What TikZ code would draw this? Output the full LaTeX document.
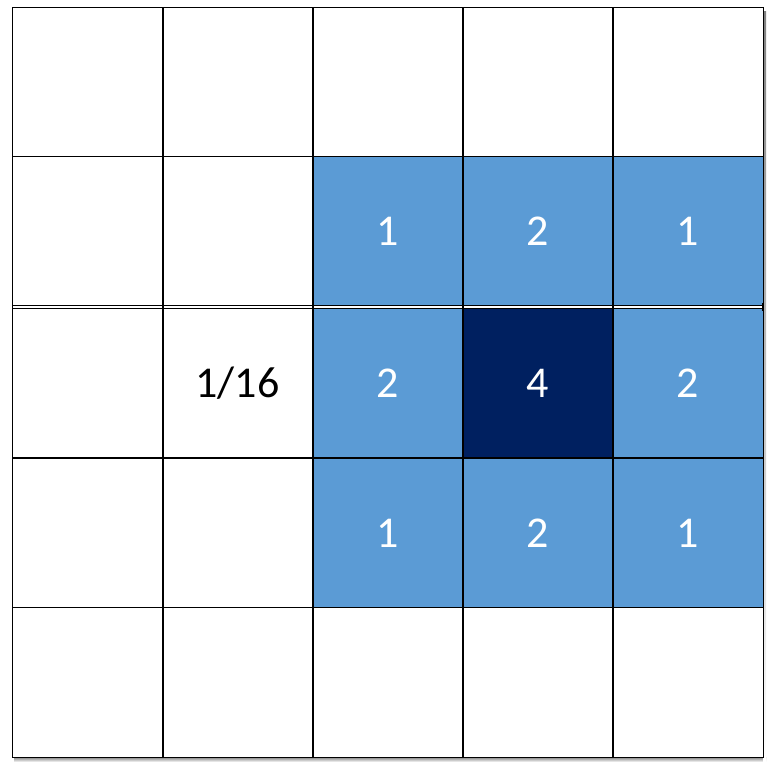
\documentclass[tikz,border=0pt]{standalone}
\usepackage{fontspec}
\setmainfont{Carlito}
\definecolor{midblue}{HTML}{5B9BD5}
\definecolor{navy}{HTML}{002060}
\definecolor{shade}{HTML}{E6ECF5}
\begin{document}
\begin{tikzpicture}[x=1pt,y=-1pt,
  cell/.style={draw=black,line width=1.4pt,inner sep=0pt,minimum width=150.4pt,minimum height=149.6pt,font=\fontsize{44}{48}\selectfont},
  bcell/.style={cell,fill=midblue,text=white},
  dcell/.style={cell,fill=navy,text=white},
  wcell/.style={cell,fill=white,text=black}]
\useasboundingbox (0,0) rectangle (779,773);
\fill[shade] (14,757) rectangle (766,762);
\fill[shade] (763,12) rectangle (766,762);
% rows 1-2
\foreach \c [count=\i] in {87.5,237.5,388,538,688}{
  \node[wcell] (r1c\i) at (\c,82.5) {};
}
\node[wcell] (r2c1) at (87.5,231.5) {};
\node[wcell] (r2c2) at (237.5,231.5) {};
\node[bcell] (r2c3) at (388,231.5) {1};
\node[bcell] (r2c4) at (538,231.5) {2};
\node[bcell] (r2c5) at (688,231.5) {1};
% row 3
\node[wcell] (r3c1) at (87.5,383) {};
\node[wcell] (r3c2) at (237.5,383) {1/16};
\node[bcell] (r3c3) at (388,383) {2};
\node[dcell] (r3c4) at (538,383) {4};
\node[bcell] (r3c5) at (688,383) {2};
% row 4
\node[wcell] (r4c1) at (87.5,533) {};
\node[wcell] (r4c2) at (237.5,533) {};
\node[bcell] (r4c3) at (388,533) {1};
\node[bcell] (r4c4) at (538,533) {2};
\node[bcell] (r4c5) at (688,533) {1};
% row 5
\foreach \c [count=\i] in {87.5,237.5,388,538,688}{
  \node[wcell] (r5c\i) at (\c,682.5) {};
}
% double line between rows 2 and 3
\draw[white,line width=2.6pt] (12.5,307.3) -- (763,307.3);
\draw[line width=1.1pt] (12.5,305.7) -- (763,305.7);
\draw[line width=1.1pt] (12.5,308.9) -- (763,308.9);
% vertical lines continue through the double line
\foreach \x in {12.5,313,463,613,763}{
  \draw[line width=1.4pt] (\x,303) -- (\x,311);
}
\draw[line width=2pt] (162.5,8) -- (162.5,757);
\end{tikzpicture}
\end{document}
